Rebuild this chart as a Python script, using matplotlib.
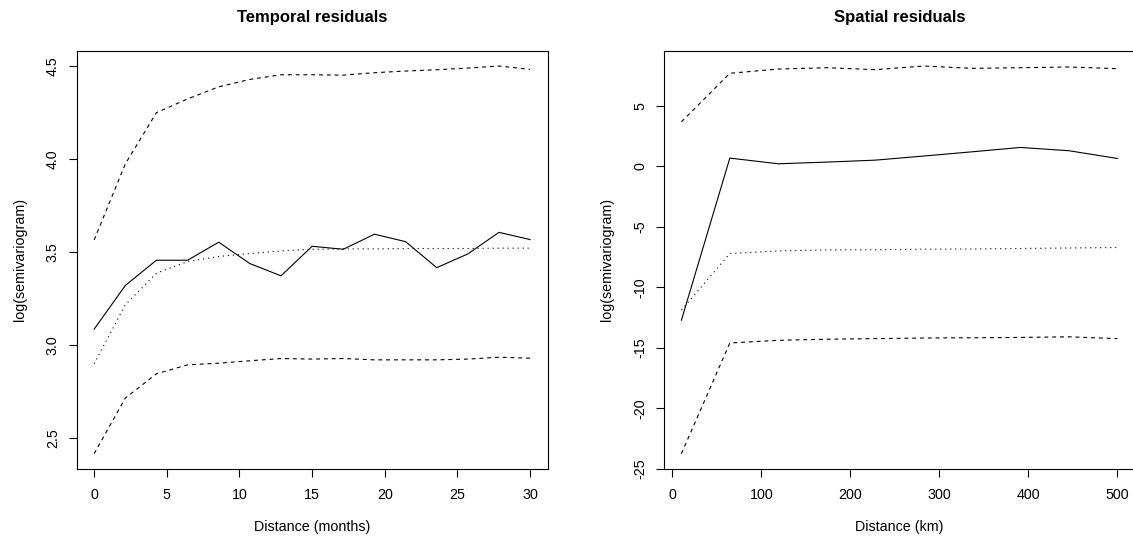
import numpy as np
import matplotlib
matplotlib.use("Agg")
import matplotlib.pyplot as plt

plt.rcParams['font.family'] = ['Liberation Sans', 'DejaVu Sans']
plt.rcParams['axes.unicode_minus'] = False

# temporal variogram (log scale), 15 lags 0..30 months
t_lag = np.linspace(0, 30, 15)
t_emp = [3.086, 3.321, 3.457, 3.457, 3.554, 3.439, 3.373, 3.532,
         3.516, 3.597, 3.557, 3.417, 3.491, 3.607, 3.568]
t_model = [2.900, 3.217, 3.387, 3.450, 3.477, 3.493, 3.507, 3.516,
           3.518, 3.518, 3.520, 3.520, 3.520, 3.522, 3.522]
t_upper = [3.566, 3.975, 4.251, 4.325, 4.390, 4.430, 4.455, 4.455,
           4.453, 4.466, 4.475, 4.482, 4.491, 4.502, 4.484]
t_lower = [2.416, 2.715, 2.846, 2.894, 2.903, 2.916, 2.928, 2.925,
           2.928, 2.921, 2.921, 2.921, 2.925, 2.935, 2.930]

# spatial variogram (log scale), 10 lags 10..500 km
s_lag = np.linspace(10, 500, 10)
s_emp = [-12.73, 0.67, 0.20, 0.34, 0.50, 0.84, 1.19, 1.55, 1.28, 0.64]
s_model = [-11.90, -7.22, -7.00, -6.92, -6.90, -6.86, -6.84, -6.80, -6.76, -6.72]
s_upper = [3.67, 7.68, 8.03, 8.14, 7.98, 8.28, 8.09, 8.14, 8.20, 8.06]
s_lower = [-23.76, -14.61, -14.39, -14.30, -14.25, -14.20, -14.18, -14.15, -14.10, -14.25]


def r_lim(*series):
    # R style axis range: data range padded by 4% each side
    v = np.concatenate([np.asarray(s, dtype=float) for s in series])
    lo, hi = v.min(), v.max()
    d = (hi - lo) * 0.04
    return lo - d, hi + d


def draw_panel(ax, x, emp, model, upper, lower, title, xlab, xticks, yticks, yfmt):
    ax.plot(x, emp, color='black', lw=0.8)
    ax.plot(x, model, color='black', lw=0.8, dashes=(1, 3.5))
    ax.plot(x, upper, color='black', lw=0.8, dashes=(3.5, 3.5))
    ax.plot(x, lower, color='black', lw=0.8, dashes=(3.5, 3.5))
    ax.set_xlim(r_lim(x))
    ax.set_ylim(r_lim(emp, model, upper, lower))
    ax.set_xticks(xticks)
    ax.set_yticks(yticks)
    ax.set_yticklabels([yfmt % v for v in yticks], rotation=90, va='center')
    ax.tick_params(length=5.8, width=0.8, labelsize=10.3)
    ax.tick_params(axis='x', pad=8)
    ax.tick_params(axis='y', pad=6.3)
    for s in ax.spines.values():
        s.set_linewidth(0.8)
    ax.set_title(title, fontsize=12, fontweight='bold', pad=20.7)
    ax.set_xlabel(xlab, fontsize=10.3, labelpad=12.5)
    ax.set_ylabel('log(semivariogram)', fontsize=10.3, labelpad=13.8)


fig = plt.figure(figsize=(11.33, 5.38), dpi=100)
ax1 = fig.add_axes([0.0677, 0.1279, 0.4156, 0.7782])
ax2 = fig.add_axes([0.5860, 0.1279, 0.4156, 0.7782])

draw_panel(ax1, t_lag, t_emp, t_model, t_upper, t_lower,
           'Temporal residuals', 'Distance (months)',
           [0, 5, 10, 15, 20, 25, 30], [2.5, 3.0, 3.5, 4.0, 4.5], '%.1f')
draw_panel(ax2, s_lag, s_emp, s_model, s_upper, s_lower,
           'Spatial residuals', 'Distance (km)',
           [0, 100, 200, 300, 400, 500], [-25, -20, -15, -10, -5, 0, 5], '%d')

fig.savefig('out.png', dpi=100)
